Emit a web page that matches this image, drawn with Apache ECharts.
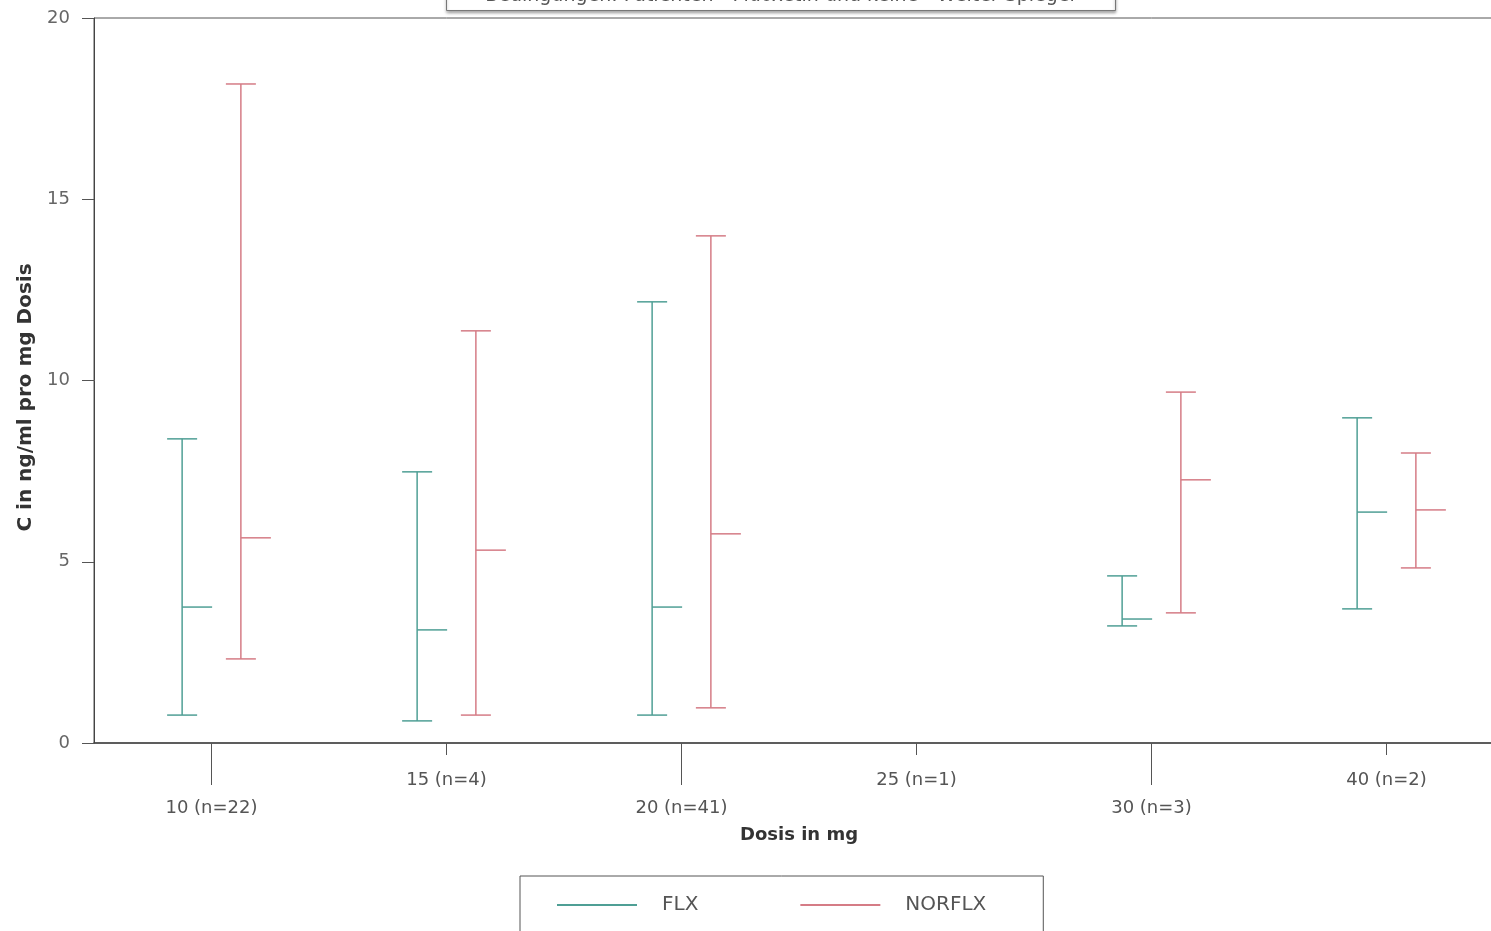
<!DOCTYPE html>
<html>
<head>
<meta charset="utf-8">
<script src="https://cdn.jsdelivr.net/npm/echarts@6/dist/echarts.min.js"></script>
<style>
  html, body { margin: 0; padding: 0; background: #fff; overflow: hidden; }
  #chart { width: 1520px; height: 931px; }
</style>
</head>
<body>
<div id="chart"></div>
<script>
// dose categories and their tick labels
const doses = ["10", "15", "20", "25", "30", "40"];
const doseLabels = ["10 (n=22)", "15 (n=4)", "20 (n=41)", "25 (n=1)", "30 (n=3)", "40 (n=2)"];

// FLX: low, high, mean per dose (null = no bar)
const flxLow  = [0.77, 0.61, 0.77, null, 3.23, 3.70];
const flxHigh = [8.39, 7.48, 12.17, null, 4.61, 8.97];
const flxMean = [3.75, 3.12, 3.75, null, 3.42, 6.37];

// NORFLX: low, high, mean per dose
const norLow  = [2.32, 0.77, 0.97, null, 3.59, 4.83];
const norHigh = [18.18, 11.37, 13.99, null, 9.68, 8.00];
const norMean = [5.66, 5.32, 5.77, null, 7.26, 6.43];

const yTicks = [0, 5, 10, 15, 20];

const FONT = "'DejaVu Sans', 'Liberation Sans', sans-serif";
const flxColor = "#4f9f95";
const norColor = "#d57c86";

// category positions: labels alternate between a low row (long tick) and a high row (short tick)
const idx = doses.map(function (d, i) { return i; });
const lowRow = idx.filter(function (i) { return i % 2 === 0; });
const highRow = idx.filter(function (i) { return i % 2 === 1; });

function rows(lo, hi, me) {
  const out = [];
  for (let i = 0; i < doses.length; i++) {
    if (lo[i] == null) continue;
    out.push([i, lo[i], hi[i], me[i]]);
  }
  return out;
}

// vertical range with end caps and a mean tick pointing right
function errorBar(side) {
  return function (params, api) {
    const i = api.value(0);
    const band = api.size([1, 0])[0];
    const c = api.coord([i, api.value(1)]);
    const x = c[0] + side * band * 0.125;
    const yLo = c[1];
    const yHi = api.coord([i, api.value(2)])[1];
    const yMe = api.coord([i, api.value(3)])[1];
    const style = { stroke: api.visual("color"), lineWidth: 1.5, fill: null };
    return {
      type: "group",
      children: [
        { type: "line", shape: { x1: x, y1: yLo, x2: x, y2: yHi }, style: style },
        { type: "line", shape: { x1: x - 15, y1: yLo, x2: x + 15, y2: yLo }, style: style },
        { type: "line", shape: { x1: x - 15, y1: yHi, x2: x + 15, y2: yHi }, style: style },
        { type: "line", shape: { x1: x, y1: yMe, x2: x + 30, y2: yMe }, style: style }
      ]
    };
  };
}

function doseAxis(ticks, tickLen, margin, extra) {
  return Object.assign({
    type: "value",
    min: -0.5,
    max: doses.length - 0.5,
    position: "bottom",
    axisLine: { show: false, onZero: false },
    axisTick: { show: true, length: tickLen, customValues: ticks, lineStyle: { color: "#555" } },
    axisLabel: {
      customValues: ticks,
      margin: margin,
      fontFamily: FONT,
      fontSize: 18,
      color: "#555",
      formatter: function (v) { return doseLabels[Math.round(v)]; }
    },
    splitLine: { show: false }
  }, extra || {});
}

const chart = echarts.init(document.getElementById("chart"));

const option = {
  animation: false,
  backgroundColor: "#fff",
  graphic: [
    {
      type: "rect",
      left: 446,
      top: -24,
      shape: { x: 0, y: 0, width: 669, height: 34 },
      style: { fill: "#fff", stroke: "#777", lineWidth: 1, shadowBlur: 3, shadowColor: "rgba(0,0,0,0.35)", shadowOffsetY: 2 },
      z: 10
    },
    {
      type: "text",
      x: 780,
      y: -4,
      style: {
        text: "Bedingungen: Patienten - Fluoxetin und keine - Weiter Spiegel",
        font: "19px " + FONT, fill: "#555", align: "center", verticalAlign: "middle"
      },
      z: 11
    }
  ],
  legend: {
    left: 520,
    top: 876,
    orient: "horizontal",
    itemWidth: 80,
    itemHeight: 2,
    itemGap: 102,
    padding: [19, 57, 40, 37],
    borderColor: "#555",
    borderWidth: 1,
    textStyle: { fontFamily: FONT, fontSize: 20, color: "#555", padding: [0, 0, 0, 20] },
    data: [
      { name: "FLX", icon: "rect" },
      { name: "NORFLX", icon: "rect" }
    ]
  },
  grid: {
    left: 94,
    top: 18,
    width: 1410,
    height: 725,
    show: true,
    borderColor: "#555",
    borderWidth: 1,
    containLabel: false
  },
  xAxis: [
    doseAxis(lowRow, 42, 56, {
      axisLine: { show: true, onZero: false, lineStyle: { color: "#444", width: 1.5 } },
      name: "Dosis in mg",
      nameLocation: "middle",
      nameGap: 83,
      nameTextStyle: { fontFamily: FONT, fontSize: 18, fontWeight: "bold", color: "#333" }
    }),
    doseAxis(highRow, 12, 28)
  ],
  yAxis: {
    type: "value",
    min: yTicks[0],
    max: yTicks[yTicks.length - 1],
    interval: 5,
    axisLine: { show: true, onZero: false, lineStyle: { color: "#444" } },
    axisTick: { show: true, length: 12, lineStyle: { color: "#555" } },
    axisLabel: { margin: 24, fontFamily: FONT, fontSize: 18, color: "#666" },
    splitLine: { show: false },
    name: "C in ng/ml pro mg Dosis",
    nameLocation: "middle",
    nameGap: 57,
    nameRotate: 90,
    nameTextStyle: { fontFamily: FONT, fontSize: 20, fontWeight: "bold", color: "#333", padding: [0, 34, 0, 0] }
  },
  series: [
    {
      name: "FLX",
      type: "custom",
      xAxisIndex: 0,
      itemStyle: { color: flxColor },
      renderItem: errorBar(-1),
      encode: { x: 0, y: [1, 2, 3] },
      data: rows(flxLow, flxHigh, flxMean)
    },
    {
      name: "NORFLX",
      type: "custom",
      xAxisIndex: 0,
      itemStyle: { color: norColor },
      renderItem: errorBar(1),
      encode: { x: 0, y: [1, 2, 3] },
      data: rows(norLow, norHigh, norMean)
    }
  ]
};

chart.setOption(option);
</script>
</body>
</html>
